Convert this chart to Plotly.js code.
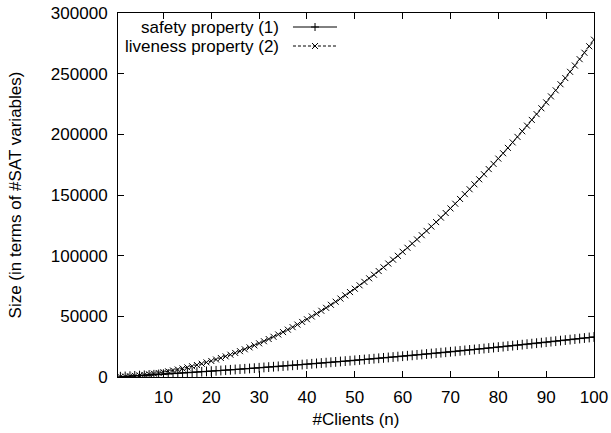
<!DOCTYPE html>
<html>
<head>
<meta charset="utf-8">
<script src="https://cdn.plot.ly/plotly-3.0.1.min.js"></script>
<style>html,body{margin:0;padding:0;background:#fff;}#chart{width:611px;height:433px;}</style>
</head>
<body>
<div id="chart"></div>
<script>
// number of clients
const clients = [1,2,3,4,5,6,7,8,9,10,11,12,13,14,15,16,17,18,19,20,21,22,23,24,25,26,27,28,29,30,31,32,33,34,35,36,37,38,39,40,41,42,43,44,45,46,47,48,49,50,51,52,53,54,55,56,57,58,59,60,61,62,63,64,65,66,67,68,69,70,71,72,73,74,75,76,77,78,79,80,81,82,83,84,85,86,87,88,89,90,91,92,93,94,95,96,97,98,99,100];
// safety property (1): size in #SAT variables
const safety = [221,444,670,898,1128,1360,1594,1830,2069,2310,2553,2798,3046,3296,3548,3802,4058,4316,4577,4840,5105,5372,5642,5914,6188,6464,6742,7022,7305,7590,7877,8166,8458,8752,9048,9346,9646,9948,10253,10560,10869,11180,11494,11810,12128,12448,12770,13094,13421,13750,14081,14414,14750,15088,15428,15770,16114,16460,16809,17160,17513,17868,18226,18586,18948,19312,19678,20046,20417,20790,21165,21542,21922,22304,22688,23074,23462,23852,24245,24640,25037,25436,25838,26242,26648,27056,27466,27878,28293,28710,29129,29550,29974,30400,30828,31258,31690,32124,32561,33000];
// liveness property (2): size in #SAT variables
const liveness = [157,366,629,944,1313,1734,2209,2736,3317,3950,4637,5376,6169,7014,7913,8864,9869,10926,12037,13200,14417,15686,17009,18384,19813,21294,22829,24416,26057,27750,29497,31296,33149,35054,37013,39024,41089,43206,45377,47600,49877,52206,54589,57024,59513,62054,64649,67296,69997,72750,75557,78416,81329,84294,87313,90384,93509,96686,99917,103200,106537,109926,113369,116864,120413,124014,127669,131376,135137,138950,142817,146736,150709,154734,158813,162944,167129,171366,175657,180000,184397,188846,193349,197904,202513,207174,211889,216656,221477,226350,231277,236256,241289,246374,251513,256704,261949,267246,272597,278000];
const seriesNames = ["safety property (1)", "liveness property (2)"];
const xTicks = [10,20,30,40,50,60,70,80,90,100];
const yTicks = [0,50000,100000,150000,200000,250000,300000];

const FONT = "Liberation Sans, Arial, Helvetica, sans-serif";
const FS = 17;

const traces = [
  {x: clients, y: safety, name: seriesNames[0], type: "scatter", mode: "lines+markers",
   line: {color: "#000", width: 1},
   marker: {symbol: "cross-thin-open", size: 7, line: {color: "#000", width: 1}}},
  {x: clients, y: liveness, name: seriesNames[1], type: "scatter", mode: "lines+markers",
   line: {color: "#000", width: 1, dash: "3px,2px"},
   marker: {symbol: "x-thin-open", size: 6, line: {color: "#000", width: 1}}}
];

// legend (gnuplot style: text, then sample on the right)
const legX = 0.3403, sampX0 = 0.3676, sampX1 = 0.4601, markX = 0.4139;
const rowY = [0.9615, 0.9093];
const annotations = seriesNames.map((n, i) => ({
  text: n, xref: "paper", yref: "paper", x: legX, y: rowY[i],
  xanchor: "right", yanchor: "middle", showarrow: false, borderpad: 0,
  font: {family: FONT, size: FS, color: "#000"}
}));
const shapes = [
  {type: "line", xref: "paper", yref: "paper", x0: sampX0, x1: sampX1, y0: rowY[0], y1: rowY[0], line: {color: "#000", width: 1}},
  {type: "line", xref: "paper", yref: "paper", x0: sampX0, x1: sampX1, y0: rowY[1], y1: rowY[1], line: {color: "#000", width: 1, dash: "3px,2px"}},
  // + marker
  {type: "line", xref: "paper", yref: "paper", xsizemode: "pixel", ysizemode: "pixel", xanchor: markX, yanchor: rowY[0], x0: -4, x1: 4, y0: 0, y1: 0, line: {color: "#000", width: 1}},
  {type: "line", xref: "paper", yref: "paper", xsizemode: "pixel", ysizemode: "pixel", xanchor: markX, yanchor: rowY[0], x0: 0, x1: 0, y0: -4, y1: 4, line: {color: "#000", width: 1}},
  // x marker
  {type: "line", xref: "paper", yref: "paper", xsizemode: "pixel", ysizemode: "pixel", xanchor: markX, yanchor: rowY[1], x0: -3, x1: 3, y0: -3, y1: 3, line: {color: "#000", width: 1}},
  {type: "line", xref: "paper", yref: "paper", xsizemode: "pixel", ysizemode: "pixel", xanchor: markX, yanchor: rowY[1], x0: -3, x1: 3, y0: 3, y1: -3, line: {color: "#000", width: 1}}
];

const layout = {
  width: 611, height: 433,
  margin: {l: 118, r: 17, t: 13, b: 56},
  paper_bgcolor: "#fff", plot_bgcolor: "#fff",
  showlegend: false,
  font: {family: FONT, size: FS, color: "#000"},
  xaxis: {
    range: [0.5, 100], tickvals: xTicks, ticktext: xTicks.map(String),
    ticks: "inside", ticklen: 6, tickcolor: "#000", tickwidth: 1,
    showline: true, linecolor: "#000", linewidth: 1, mirror: "allticks",
    showgrid: false, zeroline: false, ticklabelstandoff: 5,
    tickfont: {family: FONT, size: FS},
    title: {text: "#Clients (n)", standoff: 6, font: {family: FONT, size: FS}}
  },
  yaxis: {
    range: [0, 300000], tickvals: yTicks, ticktext: yTicks.map(String),
    ticks: "inside", ticklen: 6, tickcolor: "#000", tickwidth: 1,
    showline: true, linecolor: "#000", linewidth: 1, mirror: "allticks",
    showgrid: false, zeroline: false, ticklabelstandoff: 6,
    tickfont: {family: FONT, size: FS},
    title: {text: "Size (in terms of #SAT variables)", standoff: 24, font: {family: FONT, size: FS}}
  },
  annotations: annotations,
  shapes: shapes
};

Plotly.newPlot("chart", traces, layout, {displayModeBar: false, staticPlot: true});
</script>
</body>
</html>
